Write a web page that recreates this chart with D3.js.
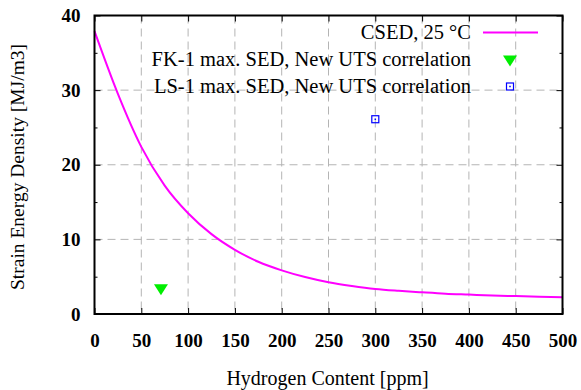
<!DOCTYPE html>
<html>
<head>
<meta charset="utf-8">
<script src="https://cdn.jsdelivr.net/npm/d3@7"></script>
<style>
  body { margin: 0; background: #fff; }
</style>
</head>
<body>
<div id="chart"></div>
<script>
// CSED curve, 25 °C
const hydrogen = [0, 25, 50, 75, 100, 125, 150, 175, 200, 225, 250, 275, 300, 325, 350, 375, 400, 425, 450, 475, 500];
const csed = [37.9, 29.5, 22.4, 17.2, 13.5, 10.7, 8.6, 7.0, 5.85, 4.95, 4.25, 3.75, 3.35, 3.1, 2.9, 2.72, 2.6, 2.48, 2.4, 2.32, 2.25];

// single measured points
const fkPoint = [{ x: 71, y: 3.3 }];
const lsPoint = [{ x: 300, y: 26.1 }];

const xTicks = [0, 50, 100, 150, 200, 250, 300, 350, 400, 450, 500];
const yTicks = [0, 10, 20, 30, 40];
const yMinor = [5, 15, 25, 35];

const legendLabels = [
    "CSED, 25 °C",
    "FK-1 max. SED, New UTS correlation",
    "LS-1 max. SED, New UTS correlation"
];

const FONT = "Liberation Serif, Times New Roman, serif";

const W = 581, H = 390;
const margin = { top: 15.5, right: 18.5, bottom: 76, left: 94.5 };
const width = W - margin.left - margin.right;
const height = H - margin.top - margin.bottom;

const svg = d3.select("#chart").append("svg")
    .attr("width", W)
    .attr("height", H)
    .attr("font-family", FONT);

const g = svg.append("g")
    .attr("transform", `translate(${margin.left},${margin.top})`);

const x = d3.scaleLinear().domain([0, 500]).range([0, width]);
const y = d3.scaleLinear().domain([0, 40]).range([height, 0]);

// Grid lines (dashed grey)
g.append("g")
    .selectAll("line")
    .data(xTicks.slice(1, -1))
    .join("line")
    .attr("x1", d => x(d)).attr("x2", d => x(d))
    .attr("y1", 0).attr("y2", height)
    .attr("stroke", "#b4b4b4")
    .attr("stroke-width", 1)
    .attr("stroke-dasharray", "8,5");

g.append("g")
    .selectAll("line")
    .data(yTicks.slice(1, -1))
    .join("line")
    .attr("x1", 0).attr("x2", width)
    .attr("y1", d => y(d)).attr("y2", d => y(d))
    .attr("stroke", "#b4b4b4")
    .attr("stroke-width", 1)
    .attr("stroke-dasharray", "8,5");

// Axes with inward ticks
const xAxis = g.append("g")
    .attr("transform", `translate(0,${height})`)
    .call(d3.axisBottom(x).tickValues(xTicks).tickSize(-6).tickPadding(20));
const yAxis = g.append("g")
    .call(d3.axisLeft(y).tickValues(yTicks).tickSize(-6).tickPadding(14));

[xAxis, yAxis].forEach(a => {
    a.attr("font-family", FONT);
    a.select(".domain").remove();
    a.selectAll(".tick line").attr("stroke", "#000").attr("stroke-width", 1);
    a.selectAll(".tick text")
        .attr("fill", "#000")
        .attr("font-size", "19px")
        .attr("font-weight", "bold")
        .attr("font-family", FONT);
});

// Mirror ticks on top and right
g.append("g")
    .call(d3.axisTop(x).tickValues(xTicks).tickSize(-6).tickFormat(""))
    .call(a => a.select(".domain").remove());
g.append("g")
    .attr("transform", `translate(${width},0)`)
    .call(d3.axisRight(y).tickValues(yTicks).tickSize(-6).tickFormat(""))
    .call(a => a.select(".domain").remove());

// Minor ticks on left and right
g.append("g")
    .call(d3.axisLeft(y).tickValues(yMinor).tickSize(-3).tickFormat(""))
    .call(a => a.select(".domain").remove());
g.append("g")
    .attr("transform", `translate(${width},0)`)
    .call(d3.axisRight(y).tickValues(yMinor).tickSize(-3).tickFormat(""))
    .call(a => a.select(".domain").remove());

// CSED curve
const curveData = hydrogen.map((h, i) => ({ x: h, y: csed[i] }));
const line = d3.line()
    .x(d => x(d.x))
    .y(d => y(d.y))
    .curve(d3.curveMonotoneX);

g.append("path")
    .datum(curveData)
    .attr("d", line)
    .attr("fill", "none")
    .attr("stroke", "#ff00ff")
    .attr("stroke-width", 2);

// Markers
const triangle = (cx, cy) => `M${cx - 7},${cy - 5} L${cx + 7},${cy - 5} L${cx},${cy + 6} Z`;

g.selectAll(".fk")
    .data(fkPoint)
    .join("path")
    .attr("class", "fk")
    .attr("d", d => triangle(x(d.x), y(d.y)))
    .attr("fill", "#00ee00");

function drawSquare(sel, cx, cy) {
    sel.append("rect")
        .attr("x", cx - 3.5).attr("y", cy - 3.5)
        .attr("width", 7).attr("height", 7)
        .attr("fill", "none")
        .attr("stroke", "#0000ff")
        .attr("stroke-width", 1.2);
    sel.append("rect")
        .attr("x", cx - 0.75).attr("y", cy - 0.75)
        .attr("width", 1.5).attr("height", 1.5)
        .attr("fill", "#0000ff");
}

lsPoint.forEach(d => drawSquare(g, x(d.x), y(d.y)));

// Frame
g.append("rect")
    .attr("x", 0).attr("y", 0)
    .attr("width", width).attr("height", height)
    .attr("fill", "none")
    .attr("stroke", "#000")
    .attr("stroke-width", 2);

// Legend
const legend = svg.append("g");
const rowY = [32.5, 59.5, 86.5];
legendLabels.forEach((label, i) => {
    legend.append("text")
        .attr("x", 471)
        .attr("y", rowY[i])
        .attr("dy", "0.33em")
        .attr("text-anchor", "end")
        .attr("font-size", "20.5px")
        .attr("font-family", FONT)
        .attr("fill", "#000")
        .text(label);
});
legend.append("line")
    .attr("x1", 483).attr("x2", 538)
    .attr("y1", rowY[0]).attr("y2", rowY[0])
    .attr("stroke", "#ff00ff")
    .attr("stroke-width", 2);
legend.append("path")
    .attr("d", triangle(510, rowY[1] + 1))
    .attr("fill", "#00ee00");
drawSquare(legend, 510, rowY[2]);

// Axis titles
svg.append("text")
    .attr("x", margin.left + width / 2 - 1)
    .attr("y", 385)
    .attr("text-anchor", "middle")
    .attr("font-size", "20px")
    .attr("font-family", FONT)
    .attr("fill", "#000")
    .text("Hydrogen Content [ppm]");

svg.append("text")
    .attr("transform", `translate(24,167) rotate(-90)`)
    .attr("text-anchor", "middle")
    .attr("font-size", "19.5px")
    .attr("font-family", FONT)
    .attr("fill", "#000")
    .text("Strain Energy Density [MJ/m3]");
</script>
</body>
</html>
